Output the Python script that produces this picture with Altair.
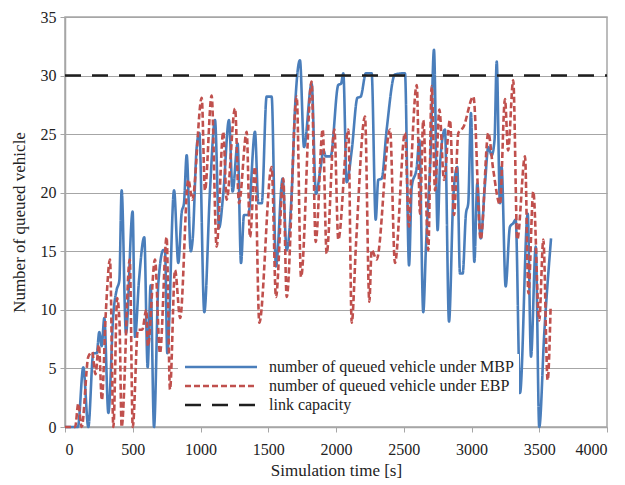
import altair as alt
import pandas as pd

# MBP series (time [s], queued vehicles)
mbp_t = [0, 95, 135, 172, 209, 234, 253, 271, 290, 320, 357, 381, 401, 418, 450, 499, 517, 546, 585, 610,
         632, 657, 689, 726, 738, 755, 805, 836, 861, 878, 898, 928, 942, 972, 991, 1028, 1070, 1107, 1137,
         1168, 1210, 1237, 1274, 1299, 1321, 1353, 1402, 1427, 1452, 1488, 1525, 1557, 1606, 1636, 1673,
         1697, 1734, 1764, 1820, 1852, 1887, 1907, 1925, 1960, 2017, 2037, 2054, 2079, 2116, 2158, 2182,
         2221, 2263, 2293, 2312, 2337, 2374, 2435, 2509, 2539, 2559, 2596, 2615, 2644, 2664, 2699, 2723,
         2750, 2768, 2804, 2834, 2866, 2895, 2915, 2935, 2959, 2976, 2996, 3021, 3043, 3068, 3100, 3124,
         3149, 3170, 3186, 3210, 3222, 3252, 3284, 3308, 3326, 3358, 3415, 3439, 3474, 3500, 3537, 3587]
mbp_v = [0, 0, 5.1, 0, 6.3, 6.3, 8.1, 6.9, 9.3, 1.2, 9.7, 11.7, 12.5, 20.2, 8.0, 18.4, 7.7, 12.5, 16.2, 5.1,
         12.1, 0, 12.3, 15.1, 15.1, 6.3, 20.2, 14.0, 18.3, 19.1, 23.2, 15.0, 16.0, 23.9, 25.1, 9.8, 20.2, 26.2, 17.0,
         19.9, 26.2, 20.1, 24.2, 14.0, 18.1, 18.1, 25.2, 19.1, 19.1, 28.2, 28.2, 13.7, 21.2, 15.1, 20.0,
         27.1, 31.3, 23.9, 29.3, 19.9, 22.2, 23.6, 23.1, 23.1, 29.2, 29.3, 30.2, 20.9, 23.6, 28.1, 28.2,
         30.2, 30.2, 17.7, 21.1, 21.2, 25.4, 30.1, 30.2, 13.8, 20.5, 22.2, 24.5, 9.8, 15.4, 23.6, 32.2,
         16.8, 22.5, 25.4, 9.0, 19.7, 22.2, 13.1, 13.1, 18.2, 19.1, 26.8, 14.1, 20.8, 16.1, 20.8, 23.9,
         23.2, 24.5, 31.2, 19.1, 22.2, 12.0, 17.1, 17.4, 17.7, 2.9, 18.2, 6.0, 15.4, 0, 8.0, 16.1]

# EBP series
ebp_t = [0, 75, 98, 123, 172, 200, 225, 250, 272, 300, 332, 357, 385, 402, 418, 478, 500, 538, 570, 600,
         612, 664, 701, 750, 775, 812, 850, 910, 940, 1009, 1033, 1082, 1119, 1168, 1193, 1255, 1284, 1341,
         1365, 1402, 1434, 1525, 1557, 1611, 1636, 1710, 1742, 1820, 1850, 1902, 1931, 1988, 2017, 2091,
         2116, 2148, 2214, 2246, 2263, 2300, 2399, 2435, 2509, 2539, 2559, 2596, 2620, 2644, 2681, 2706,
         2731, 2763, 2797, 2841, 2871, 2903, 2940, 3014, 3068, 3124, 3160, 3210, 3247, 3270, 3308, 3338,
         3395, 3420, 3456, 3500, 3530, 3562, 3584]
ebp_v = [0, 0, 2.0, 0, 6.0, 6.4, 4.5, 7.0, 2.3, 9.5, 14.3, 0, 11.0, 9.0, 0, 14.3, 0, 8.3, 8.3, 10.0,
         6.9, 14.3, 6.3, 16.2, 3.2, 13.4, 9.3, 21.1, 19.4, 28.1, 20.2, 28.3, 15.4, 25.2, 19.4, 27.2, 19.1, 25.2,
         16.2, 22.2, 8.9, 22.2, 11.1, 21.2, 11.1, 28.2, 12.8, 29.5, 15.8, 25.4, 14.8, 25.4, 16.0, 25.4,
         8.9, 15.7, 26.5, 10.7, 15.1, 14.3, 25.4, 14.0, 25.1, 17.1, 23.1, 29.2, 18.2, 26.2, 15.1, 29.1,
         20.2, 27.1, 21.1, 26.2, 18.1, 25.1, 25.6, 28.2, 16.0, 25.1, 22.0, 19.0, 28.0, 23.6, 29.6, 16.0,
         23.1, 11.4, 20.1, 9.1, 16.0, 4.0, 10.3]

cap_t = [0, 4000]
cap_v = [30, 30]

names = ["number of queued vehicle under MBP",
         "number of queued vehicle under EBP",
         "link capacity"]

df = pd.concat([
    pd.DataFrame({"t": mbp_t, "v": mbp_v, "s": names[0]}),
    pd.DataFrame({"t": ebp_t, "v": ebp_v, "s": names[1]}),
    pd.DataFrame({"t": cap_t, "v": cap_v, "s": names[2]}),
])

FONT = "Liberation Serif"

chart = alt.Chart(df).mark_line(interpolate="monotone", strokeWidth=2.6).encode(
    x=alt.X("t:Q", title="Simulation time [s]",
            scale=alt.Scale(domain=[0, 4000], nice=False),
            axis=alt.Axis(values=list(range(0, 4001, 500)), grid=False, format="d")),
    y=alt.Y("v:Q", title="Number of queued vehicle",
            scale=alt.Scale(domain=[0, 35], nice=False),
            axis=alt.Axis(values=list(range(0, 36, 5)))),
    color=alt.Color("s:N", scale=alt.Scale(domain=names, range=["#4A7EBB", "#C0504D", "#1F1F1F"]),
                    legend=alt.Legend(title=None, orient="none", legendX=113, legendY=337,
                                      fillColor="white", padding=5,
                                      symbolType="M-6,0H6", symbolSize=144, symbolStrokeWidth=2.6,
                                      symbolOffset=30, labelOffset=40, labelLimit=400,
                                      labelFont=FONT, labelFontSize=16, labelColor="#222",
                                      rowPadding=3)),
    strokeDash=alt.StrokeDash("s:N", scale=alt.Scale(domain=names, range=[[1, 0], [6, 3], [16, 11]])),
    order=alt.Order("t:Q"),
).properties(
    width=542, height=410,
    autosize=alt.AutoSizeParams(type="none"),
    padding={"left": 57, "top": 9, "right": 10, "bottom": 56},
).configure_view(
    stroke="#A6A6A6", strokeWidth=1.5
).configure_axis(
    labelFont=FONT, labelFontSize=16, labelColor="#222",
    titleFont=FONT, titleFontSize=17, titleFontWeight="normal", titleColor="#222",
    domainColor="#A6A6A6", domainWidth=1.5, tickColor="#A6A6A6", tickSize=5,
    gridColor="#A6A6A6", gridWidth=1,
).configure_axisY(
    titlePadding=12, labelPadding=4
).configure_axisX(
    titlePadding=5, labelPadding=9
)

chart.save("out.html", embed_options={"renderer": "svg", "actions": False})
